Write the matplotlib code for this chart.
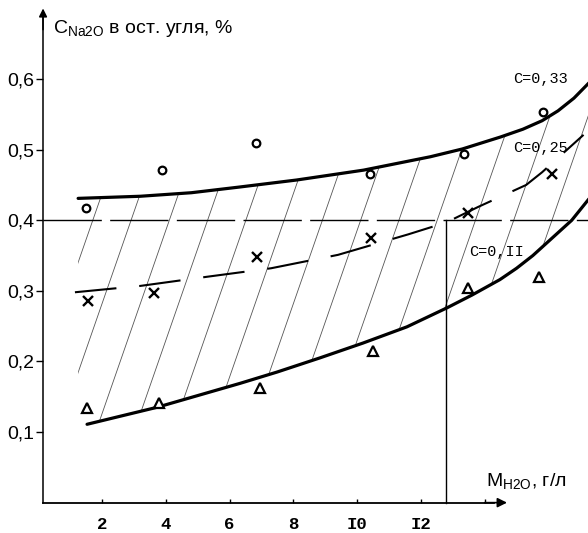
import matplotlib.pyplot as plt
import numpy as np
from matplotlib.patches import Polygon

plt.rcParams['mathtext.fontset'] = 'custom'
plt.rcParams['mathtext.rm'] = 'Liberation Sans'

# --- data ---
# upper boundary, C=0,33
upper_x = [1.25, 3.2, 4.8, 6.3, 8.1, 10.2, 12.3, 13.3, 14.5, 15.2, 15.8, 16.3, 16.8, 17.3]
upper_y = [0.431, 0.434, 0.439, 0.447, 0.457, 0.471, 0.490, 0.501, 0.518, 0.529, 0.541,
           0.555, 0.573, 0.596]

# middle dashed curve, C=0,25
mid_x = [1.15, 3.2, 5.3, 7.3, 9.4, 11.6, 12.8, 13.8, 15.3, 15.8, 17.1]
mid_y = [0.298, 0.307, 0.320, 0.332, 0.351, 0.380, 0.397, 0.419, 0.450, 0.468, 0.521]

# lower boundary, C=0,11
lower_x = [1.53, 3.72, 6.33, 7.49, 8.83, 10.18, 11.56, 12.82, 13.6, 14.48, 15.0, 15.51,
           16.73, 17.3]
lower_y = [0.111, 0.135, 0.169, 0.185, 0.205, 0.226, 0.249, 0.276, 0.294, 0.316, 0.332,
           0.350, 0.400, 0.432]

# measured points
circ_x = [1.50, 3.88, 6.83, 10.40, 13.35, 15.82]
circ_y = [0.417, 0.471, 0.509, 0.465, 0.494, 0.553]
cross_x = [1.56, 3.63, 6.86, 10.43, 13.47, 16.11]
cross_y = [0.285, 0.297, 0.348, 0.375, 0.410, 0.465]
tri_x = [1.53, 3.79, 6.96, 10.49, 13.47, 15.70]
tri_y = [0.134, 0.141, 0.162, 0.215, 0.304, 0.320]

# limiting values
c_limit = 0.4
m_limit = 12.8

yticks = [0.1, 0.2, 0.3, 0.4, 0.5, 0.6]
ytick_labels = ['0,1', '0,2', '0,3', '0,4', '0,5', '0,6']
xticks = [2, 4, 6, 8, 10, 12, 14]
xtick_labels = ['2', '4', '6', '8', 'I0', 'I2', '']

curve_labels = ['C=0,33', 'C=0,25', 'C=0,II']
curve_label_pos = [(14.9, 0.6), (14.9, 0.502), (13.5, 0.355)]


def plot_chart():
    fig = plt.figure(figsize=(5.88, 5.33), dpi=100)
    ax = fig.add_axes([0, 0, 1, 1])
    ax.set_xlim(-1.2, 17.24)
    ax.set_ylim(-0.043, 0.712)

    # axes as drawn lines through the origin
    for side in ['top', 'right']:
        ax.spines[side].set_visible(False)
    ax.spines['left'].set_position(('data', 0.15))
    ax.spines['bottom'].set_position(('data', 0.0))
    ax.spines['left'].set_bounds(0, 0.69)
    ax.spines['bottom'].set_bounds(0.15, 14.3)
    ax.spines['left'].set_linewidth(1.1)
    ax.spines['bottom'].set_linewidth(1.3)

    ax.set_yticks(yticks)
    ax.set_yticklabels(ytick_labels, fontsize=14, family='Liberation Sans')
    ax.tick_params(axis='y', direction='out', length=5, width=1, pad=1)
    ax.set_xticks(xticks)
    ax.set_xticklabels(xtick_labels, fontsize=12.5, family='Liberation Mono',
                       fontweight='bold')
    ax.tick_params(axis='x', direction='in', length=3, width=1, pad=10)

    # arrow heads
    ax.annotate('', xy=(14.7, 0), xytext=(14.0, 0),
                arrowprops=dict(arrowstyle='-|>', color='black', lw=1.2,
                                mutation_scale=14, shrinkA=0, shrinkB=0))
    ax.annotate('', xy=(0.15, 0.7), xytext=(0.15, 0.67),
                arrowprops=dict(arrowstyle='-|>', color='black', lw=1.1,
                                mutation_scale=12, shrinkA=0, shrinkB=0))

    # hatched region between lower and upper curves
    poly_pts = ([(upper_x[0], 0.18)] + list(zip(lower_x, lower_y))
                + list(zip(upper_x[::-1], upper_y[::-1])))
    clip = Polygon(poly_pts, closed=True, facecolor='none', edgecolor='none')
    ax.add_patch(clip)
    slope = 7.7
    yy = np.array([0.0, 0.7])
    for x0 in np.arange(-3.0, 19.0, 1.2):
        ln, = ax.plot(x0 + slope * (yy - 0.1), yy, color='#555555', lw=0.6)
        ln.set_clip_path(clip)

    # curves
    ax.plot(upper_x, upper_y, color='black', lw=2.3, solid_capstyle='round',
            solid_joinstyle='round')
    ax.plot(lower_x, lower_y, color='black', lw=2.3, solid_capstyle='round',
            solid_joinstyle='round')
    ax.plot(mid_x, mid_y, color='black', lw=1.5, dashes=(20, 11))

    # limit lines
    ax.plot([0.15, 17.3], [c_limit, c_limit], color='black', lw=1.0, dashes=(42, 6))
    ax.plot([m_limit, m_limit], [0, c_limit], color='black', lw=1.0)

    # points
    ax.plot(circ_x, circ_y, 'o', ms=5.5, mfc='white', mec='black', mew=1.6)
    ax.plot(cross_x, cross_y, 'x', ms=6.5, color='black', mew=1.7)
    ax.plot(tri_x, tri_y, '^', ms=6.5, mfc='white', mec='black', mew=1.6)

    for txt, (tx, ty) in zip(curve_labels, curve_label_pos):
        ax.text(tx, ty, txt, fontsize=11, family='Liberation Mono',
                ha='left', va='center')

    # axis titles
    ax.text(0.45, 0.672, r'C$_{\mathregular{Na2O}}$ в ост. угля, %',
            fontsize=14, family='Liberation Sans', ha='left', va='center')
    ax.text(14.05, 0.03, r'M$_{\mathregular{H2O}}$, г/л',
            fontsize=14, family='Liberation Sans', ha='left', va='center')

    fig.savefig('out.png', dpi=100)


if __name__ == "__main__":
    plot_chart()
